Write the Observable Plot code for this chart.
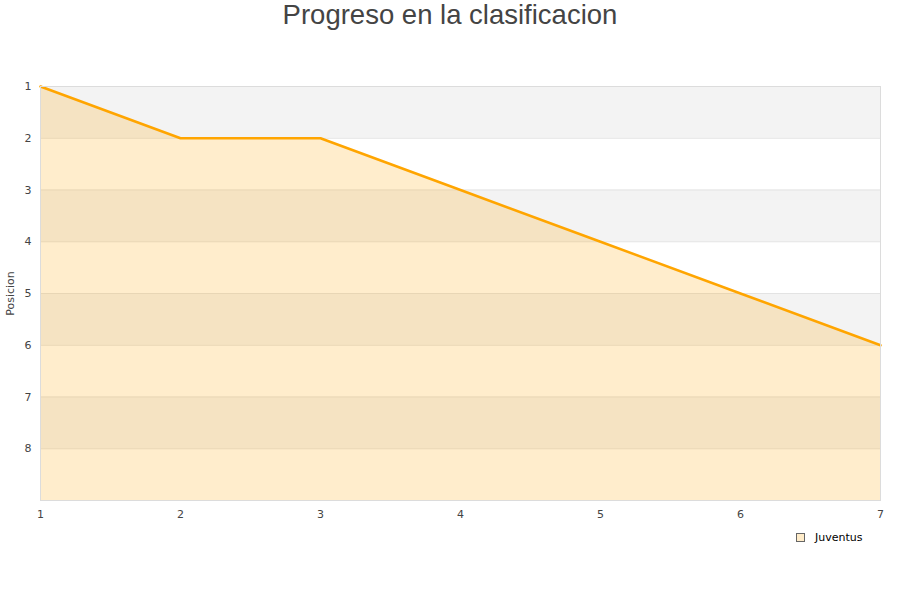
<!DOCTYPE html>
<html><head><meta charset="utf-8">
<script src="https://cdn.jsdelivr.net/npm/d3@7"></script>
<script src="https://cdn.jsdelivr.net/npm/@observablehq/plot@0.6"></script>
<style>
body{margin:0;background:#fff;}
#wrap{position:relative;width:900px;height:600px;overflow:hidden;}
#title{position:absolute;top:-1px;left:0;width:900px;text-align:center;font-family:"Liberation Sans",Arial,sans-serif;font-size:27.5px;color:#444;line-height:32px;}
#legend{position:absolute;left:796px;top:531px;font-family:"DejaVu Sans",sans-serif;font-size:11px;color:#000;display:flex;align-items:center;}
#legend span.sw{display:inline-block;width:7px;height:7px;background:#ffecc9;border:1px solid #666;margin-right:10px;}
#chart{position:absolute;top:0;left:0;}
</style></head>
<body><div id="wrap"><div id="chart"></div><div id="title">Progreso en la clasificacion</div>
<div id="legend"><span class="sw"></span>Juventus</div></div>
<script>
const jornadas = [1, 2, 3, 4, 5, 6, 7];
const posiciones = [1, 2, 2, 3, 4, 5, 6];
const yTicks = [1, 2, 3, 4, 5, 6, 7, 8];
const bandStarts = [1, 3, 5, 7];
const team = "Juventus";

const data = jornadas.map((j, i) => ({jornada: j, pos: posiciones[i], team}));
const bands = bandStarts.map(b => ({y1: b, y2: b + 1}));

const chart = Plot.plot({
  width: 900, height: 600,
  marginTop: 86, marginBottom: 100, marginLeft: 40, marginRight: 20,
  style: {fontFamily: "DejaVu Sans, sans-serif", fontSize: "11px", color: "#444", background: "transparent"},
  x: {domain: [1, 7]},
  y: {domain: [1, 9], reverse: true},
  marks: [
    Plot.rectY(bands, {x1: 1, x2: 7, y1: "y1", y2: "y2", fill: "#f3f3f3"}),
    Plot.ruleY(yTicks.slice(1), {stroke: "#e3e3e3"}),
    Plot.areaY(data, {x: "jornada", y1: 9, y2: "pos", fill: "#ffa500", fillOpacity: 0.2}),
    Plot.line(data, {x: "jornada", y: "pos", stroke: "#ffa500", strokeWidth: 2.5}),
    Plot.frame({stroke: "#dcdcdc"}),
    Plot.axisY(yTicks, {tickSize: 0, tickPadding: 9, label: null, fill: "#444", tickFormat: d => String(d)}),
    Plot.axisX(jornadas, {tickSize: 0, tickPadding: 10, label: null, fill: "#444", tickFormat: d => String(d)}),
    Plot.text(["Posicion"], {frameAnchor: "left", textAnchor: "middle", dx: -30, rotate: -90, fill: "#444", fontSize: 11})
  ]
});
document.getElementById("chart").appendChild(chart);
</script></body></html>
